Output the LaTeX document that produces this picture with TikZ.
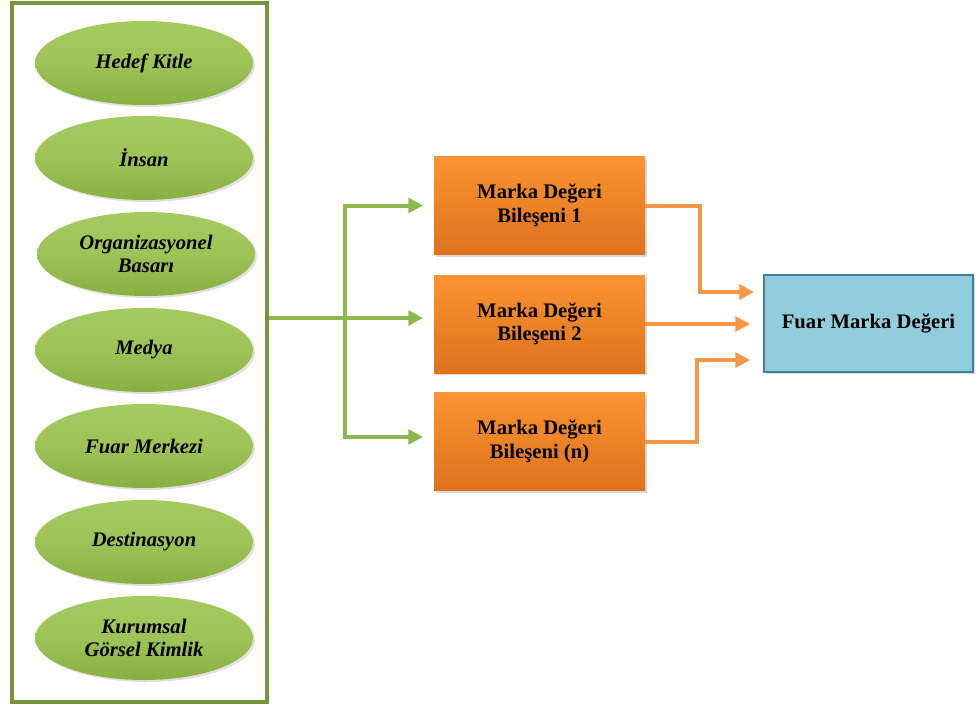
\documentclass[tikz,border=0pt]{standalone}
\usepackage{fontspec}
\setmainfont{Liberation Serif}
\usetikzlibrary{shapes.geometric,arrows.meta,shadows}
\definecolor{frameg}{HTML}{77933C}
\definecolor{lineg}{HTML}{8DB84F}
\definecolor{elltop}{HTML}{A5CA60}
\definecolor{ellbot}{HTML}{88AF40}
\definecolor{ortop}{HTML}{FA9432}
\definecolor{orbot}{HTML}{DE721C}
\definecolor{oline}{HTML}{F79646}
\definecolor{bluef}{HTML}{93CDDD}
\definecolor{blued}{HTML}{3F8199}
\tikzset{
  ell/.style={ellipse, minimum width=163.5pt, minimum height=63pt, inner sep=0pt,
    top color=elltop, bottom color=ellbot, middle color=elltop!75!ellbot,
    drop shadow={opacity=0.25, shadow xshift=1.5pt, shadow yshift=-1.5pt},
    font=\fontsize{15.5}{17.5}\selectfont\bfseries\itshape, align=center, text=black},
  obox/.style={rectangle, minimum width=158.25pt, minimum height=73.5pt, inner sep=0pt,
    top color=ortop, bottom color=orbot,
    drop shadow={opacity=0.3, shadow xshift=1.5pt, shadow yshift=-1.5pt},
    font=\fontsize{15.5}{17.5}\selectfont\bfseries, align=center},
  bbox/.style={rectangle, minimum width=156.75pt, minimum height=72.75pt, inner sep=0pt,
    fill=bluef, draw=blued, line width=0.8pt,
    drop shadow={opacity=0.3, shadow xshift=1.5pt, shadow yshift=-1.5pt},
    font=\fontsize{15.5}{17.5}\selectfont\bfseries, align=center},
  garrow/.style={draw=lineg, line width=3pt, -{Triangle[length=11pt,width=11pt]}},
  gline/.style={draw=lineg, line width=3pt},
  oarrow/.style={draw=oline, line width=3pt, -{Triangle[length=11pt,width=11pt]}},
}
\begin{document}
\begin{tikzpicture}[x=0.75pt,y=-0.75pt]
\useasboundingbox (0,0) rectangle (977,704);
% frame
\node (frame) [draw=frameg, line width=3pt, minimum width=191.25pt, minimum height=524.25pt, inner sep=0pt] at (139.5,352.5) {};
% ellipses
\node (e1) [ell] at (144,63) {Hedef Kitle};
\node (e2) [ell] at (144,158) {İnsan};
\node (e3) [ell] at (146,254) {Organizasyonel\\Basarı};
\node (e4) [ell] at (144,350) {Medya};
\node (e5) [ell] at (144,446) {Fuar Merkezi};
\node (e6) [ell] at (144,542) {Destinasyon};
\node (e7) [ell] at (144,638) {Kurumsal\\Görsel Kimlik};
% orange boxes
\node (b1) [obox] at (539.5,205.5) {Marka Değeri\\Bileşeni 1};
\node (b2) [obox] at (539.5,324) {Marka Değeri\\Bileşeni 2};
\node (b3) [obox] at (539.5,441.5) {Marka Değeri\\Bileşeni (n)};
% blue box
\node (fb) [bbox] at (868.5,323.5) {Fuar Marka Değeri};
% green connectors
\coordinate (j) at (345,318);
\draw[gline] (frame.east |- j) -- (j);
\draw[garrow, shorten >=8pt] (j) |- (b1.west);
\draw[garrow, shorten >=8pt] (j) -- ([yshift=4.5pt]b2.west);
\draw[garrow, shorten >=8pt] (j) |- ([yshift=3.4pt]b3.west);
% orange connectors
\draw[oarrow, shorten >=7pt] (b1.east) -- ++(55,0) |- ([yshift=23.6pt]fb.west);
\draw[oarrow, shorten >=10pt] (b2.east) -- (b2.east -| fb.west);
\draw[oarrow, shorten >=10pt] (b3.east) -- ++(52,0) |- ([yshift=-27.4pt]fb.west);
\end{tikzpicture}
\end{document}
